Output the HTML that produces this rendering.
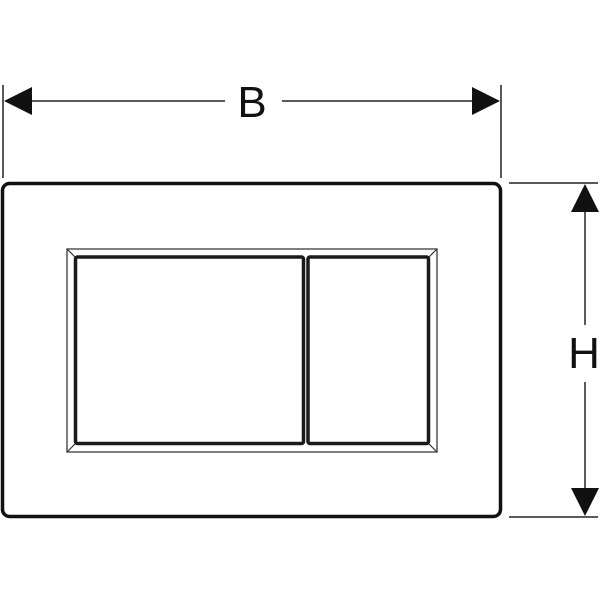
<!DOCTYPE html>
<html><head><style>html,body{margin:0;padding:0;background:#fff}</style></head>
<body>
<svg width="600" height="600" viewBox="0 0 600 600" xmlns="http://www.w3.org/2000/svg">
<rect width="600" height="600" fill="#fff"/>
<!-- B dimension -->
<line x1="3" y1="85" x2="3" y2="178" stroke="#222" stroke-width="1.5"/>
<line x1="501" y1="85" x2="501" y2="178" stroke="#222" stroke-width="1.5"/>
<line x1="20" y1="101" x2="225" y2="101" stroke="#222" stroke-width="1.5"/>
<line x1="282" y1="101" x2="485" y2="101" stroke="#222" stroke-width="1.5"/>
<polygon points="4,101 32,87 32,115" fill="#111"/>
<polygon points="500,101 472,87 472,115" fill="#111"/>
<text x="252" y="117" font-family="Liberation Sans, sans-serif" font-size="44" text-anchor="middle" fill="#111">B</text>
<!-- H dimension -->
<line x1="509" y1="183" x2="598" y2="183" stroke="#222" stroke-width="1.5"/>
<line x1="509" y1="517" x2="598" y2="517" stroke="#222" stroke-width="1.5"/>
<line x1="585" y1="200" x2="585" y2="325" stroke="#222" stroke-width="1.5"/>
<line x1="585" y1="382" x2="585" y2="500" stroke="#222" stroke-width="1.5"/>
<polygon points="585,184 571,212 599,212" fill="#111"/>
<polygon points="585,516 571,488 599,488" fill="#111"/>
<text x="584" y="368" font-family="Liberation Sans, sans-serif" font-size="44" text-anchor="middle" fill="#111">H</text>
<!-- plate -->
<rect x="2.5" y="183.5" width="498" height="333" rx="7" fill="none" stroke="#111" stroke-width="3.5"/>
<!-- bevel -->
<rect x="67" y="249" width="370" height="203" fill="none" stroke="#555" stroke-width="1.5"/>
<line x1="67" y1="249" x2="75" y2="257" stroke="#333" stroke-width="1.2"/>
<line x1="437" y1="249" x2="429" y2="257" stroke="#333" stroke-width="1.2"/>
<line x1="67" y1="452" x2="75" y2="444" stroke="#333" stroke-width="1.2"/>
<line x1="437" y1="452" x2="429" y2="444" stroke="#333" stroke-width="1.2"/>
<!-- buttons -->
<rect x="75.5" y="257" width="228" height="186.5" rx="2" fill="none" stroke="#1a1a1a" stroke-width="3.5"/>
<rect x="308" y="257" width="120.5" height="186.5" rx="2" fill="none" stroke="#1a1a1a" stroke-width="3.5"/>
</svg>
</body></html>
